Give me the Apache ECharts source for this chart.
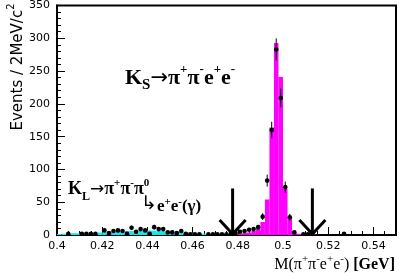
<!DOCTYPE html>
<html><head><meta charset="utf-8">
<script src="https://cdn.jsdelivr.net/npm/echarts@6/dist/echarts.min.js"></script>
<style>html,body{margin:0;padding:0;background:#fff}#c{width:399px;height:273px}</style>
</head><body><div id="c"></div>
<script>
// Histogram binning: 2 MeV bins from 0.40 to 0.55 GeV (75 bins)
const binStart = 0.4;
const binWidth = 0.002;

// Data points (events per bin)
const dataCounts = [
  0,0,2,0,0,2,2,2,2,0,
  7,3,6,7,6,2,11,5,9,7,
  2,12,9,9,4,4,3,6,2,1,
  1,1,0,1,1,1,1,1,2,3,
  5,6,8,9,12,28,83,160,283,209,
  73,27,4,0,1,1,0,0,0,0,
  0,0,0,2,0,0,0,0,0,0,
  0,0,0,0,0
];

// K_S -> pi+ pi- e+ e- Monte Carlo (magenta)
const ksMC = [
  0,0,0,0,0,0,0,0,0,0,
  0,0,0,0,0,0,0,0,0,0,
  0,0,0,0,0,0,0,0,0,0,
  0,0,0,0,0,0,0,0,0,1,
  2,3,4,6,9,20,54,164,293,241,
  70,28,5,2,1,1,0.5,0.5,0,0,
  0,0,0,0,0,0,0,0,0,0,
  0,0,0,0,0
];

// K_L -> pi+ pi- pi0(Dalitz) Monte Carlo (cyan)
const klMC = [
  1.5,2,2,2.5,2.5,3,3,3.5,3.5,4,
  4,4.5,5,5,5.5,6,6,6.5,7,7,
  7,6.5,6.5,6,6,5.5,5,4.5,4,3.5,
  3,2.5,2,1.5,1,0.5,0.5,0,0,0,
  0,0,0,0,0,0,0,0,0,0,
  0,0,0,0,0,0,0,0,0,0,
  0,0,0,0,0,0,0,0,0,0,
  0,0,0,0,0
];

// Mass window cuts (arrows) and arrow shaft height
const cutValues = [0.4777, 0.5130];
const arrowTop = 71;

const edgesLo = dataCounts.map((_, i) => binStart + i * binWidth);

function histSeries(values, color, z) {
  return {
    type: 'custom', z: z, silent: true, clip: true,
    data: values.map((v, i) => [edgesLo[i], edgesLo[i] + binWidth, v]),
    encode: { x: [0, 1], y: 2 },
    renderItem(params, api) {
      const v = api.value(2);
      if (!(v > 0)) return null;
      const p0 = api.coord([api.value(0), v]);
      const p1 = api.coord([api.value(1), 0]);
      return { type: 'rect', shape: { x: p0[0], y: p0[1], width: p1[0] - p0[0], height: p1[1] - p0[1] },
               style: { fill: color } };
    }
  };
}

const chart = echarts.init(document.getElementById('c'), null, { renderer: 'canvas' });
const sansFont = 'DejaVu Sans';
const serif = 'Liberation Serif';

function tok(size, pad, opts) {
  return Object.assign({ fontFamily: serif, fontWeight: 'bold', fontSize: size, lineHeight: size, fill: '#000', verticalAlign: 'top', padding: [pad, 0, 0, 0] }, opts || {});
}

chart.setOption({
  animation: false,
  backgroundColor: '#fff',
  grid: { left: 57, right: 3, top: 4, bottom: 38, show: true, borderColor: '#000', borderWidth: 2, backgroundColor: 'transparent' },
  xAxis: {
    type: 'value', min: 0.4, max: 0.55, interval: 0.02,
    axisLine: { lineStyle: { color: '#000', width: 2 } },
    axisTick: { inside: true, length: 8, lineStyle: { color: '#000' } },
    minorTick: { show: true, splitNumber: 4, length: 4, lineStyle: { color: '#000' } },
    splitLine: { show: false },
    axisLabel: { showMaxLabel: false, color: '#000', fontFamily: sansFont, fontSize: 11, margin: 6 }
  },
  yAxis: {
    type: 'value', min: 0, max: 350, interval: 50,
    axisLine: { lineStyle: { color: '#000', width: 2 } },
    axisTick: { inside: true, length: 8, lineStyle: { color: '#000' } },
    minorTick: { show: true, splitNumber: 5, length: 4, lineStyle: { color: '#000' } },
    splitLine: { show: false },
    axisLabel: { color: '#000', fontFamily: sansFont, fontSize: 11, margin: 7 }
  },
  series: [
    histSeries(klMC, '#12e6f0', 1),
    histSeries(ksMC, '#ff00ff', 2),
    {
      type: 'custom', z: 3, silent: true, clip: true,
      data: dataCounts.map((n, i) => [edgesLo[i] + binWidth / 2, n, Math.sqrt(n)]),
      encode: { x: 0, y: 1 },
      renderItem(params, api) {
        const n = api.value(1);
        if (!(n > 0)) return null;
        const c = api.value(0), e = api.value(2);
        const p = api.coord([c, n]);
        const lo = api.coord([c, Math.max(0, n - e)]);
        const hi = api.coord([c, n + e]);
        return { type: 'group', children: [
          { type: 'line', shape: { x1: p[0], y1: lo[1], x2: p[0], y2: hi[1] }, style: { stroke: '#000', lineWidth: 1 } },
          { type: 'circle', shape: { cx: p[0], cy: p[1], r: 2.3 }, style: { fill: '#000' } }
        ] };
      }
    },
    {
      type: 'custom', z: 4, silent: true, clip: false,
      data: cutValues.map(v => [v, arrowTop]),
      encode: { x: 0, y: 1 },
      renderItem(params, api) {
        const top = api.coord([api.value(0), api.value(1)]);
        const tip = api.coord([api.value(0), 0]);
        const tx = tip[0], ty = tip[1] - 1;
        return { type: 'group', children: [
          { type: 'line', shape: { x1: top[0], y1: top[1], x2: tx, y2: ty }, style: { stroke: '#000', lineWidth: 3 } },
          { type: 'polyline', shape: { points: [[tx - 13, ty - 14], [tx, ty], [tx + 13, ty - 14]] }, style: { stroke: '#000', lineWidth: 3, fill: null } }
        ] };
      }
    }
  ],
  graphic: [
    { type: 'text', x: 14, y: 67, rotation: Math.PI / 2, silent: true,
      style: { text: '{t|Events / 2MeV/c}{s|2}', align: 'center', verticalAlign: 'middle',
        rich: { t: { fontFamily: sansFont, fontSize: 15, lineHeight: 15, fill: '#000', verticalAlign: 'top', padding: [4, 0, 0, 0] },
                s: { fontFamily: sansFont, fontSize: 10, lineHeight: 10, fill: '#000', verticalAlign: 'top', padding: [0, 0, 0, 0] } } } },
    { type: 'text', x: 125, y: 59, silent: true,
      style: { text: '{k|K}{s|S}{a|→}{k|π}{p|+}{k|π}{p|-}{k|e}{p|+}{k|e}{p|-}', align: 'left', verticalAlign: 'top',
        rich: {
          k: tok(22, 8),
          s: tok(15, 19),
          a: tok(21, 9, { fontFamily: sansFont, fontWeight: 'normal' }),
          p: tok(13, 4)
        } } },
    { type: 'text', x: 68, y: 175, silent: true,
      style: { text: '{k|K}{s|L}{a|→}{k|π}{p|+}{k|π}{p|-}{k|π}{p|0}', align: 'left', verticalAlign: 'top',
        rich: {
          k: tok(18, 5),
          s: tok(12, 16),
          a: tok(17, 6, { fontFamily: sansFont, fontWeight: 'normal' }),
          p: tok(11, 3)
        } } },
    { type: 'text', x: 141, y: 194, silent: true,
      style: { text: '{h|↳}{k|e}{p|+}{k|e}{p|-}{k|(γ)}', align: 'left', verticalAlign: 'top',
        rich: {
          h: tok(19, 1, { fontFamily: sansFont, fontWeight: 'normal' }),
          k: tok(17, 4),
          p: tok(11, 3)
        } } },
    { type: 'text', x: 395, y: 252, silent: true,
      style: { text: '{k|M(π}{p|+}{k|π}{p|-}{k|e}{p|+}{k|e}{p|-}{k|) }{b|[GeV]}', align: 'right', verticalAlign: 'top',
        rich: {
          k: tok(16, 5, { fontWeight: 'normal' }),
          b: tok(16, 5),
          p: tok(11, 2, { fontWeight: 'normal' })
        } } }
  ]
});
</script>
</body></html>
